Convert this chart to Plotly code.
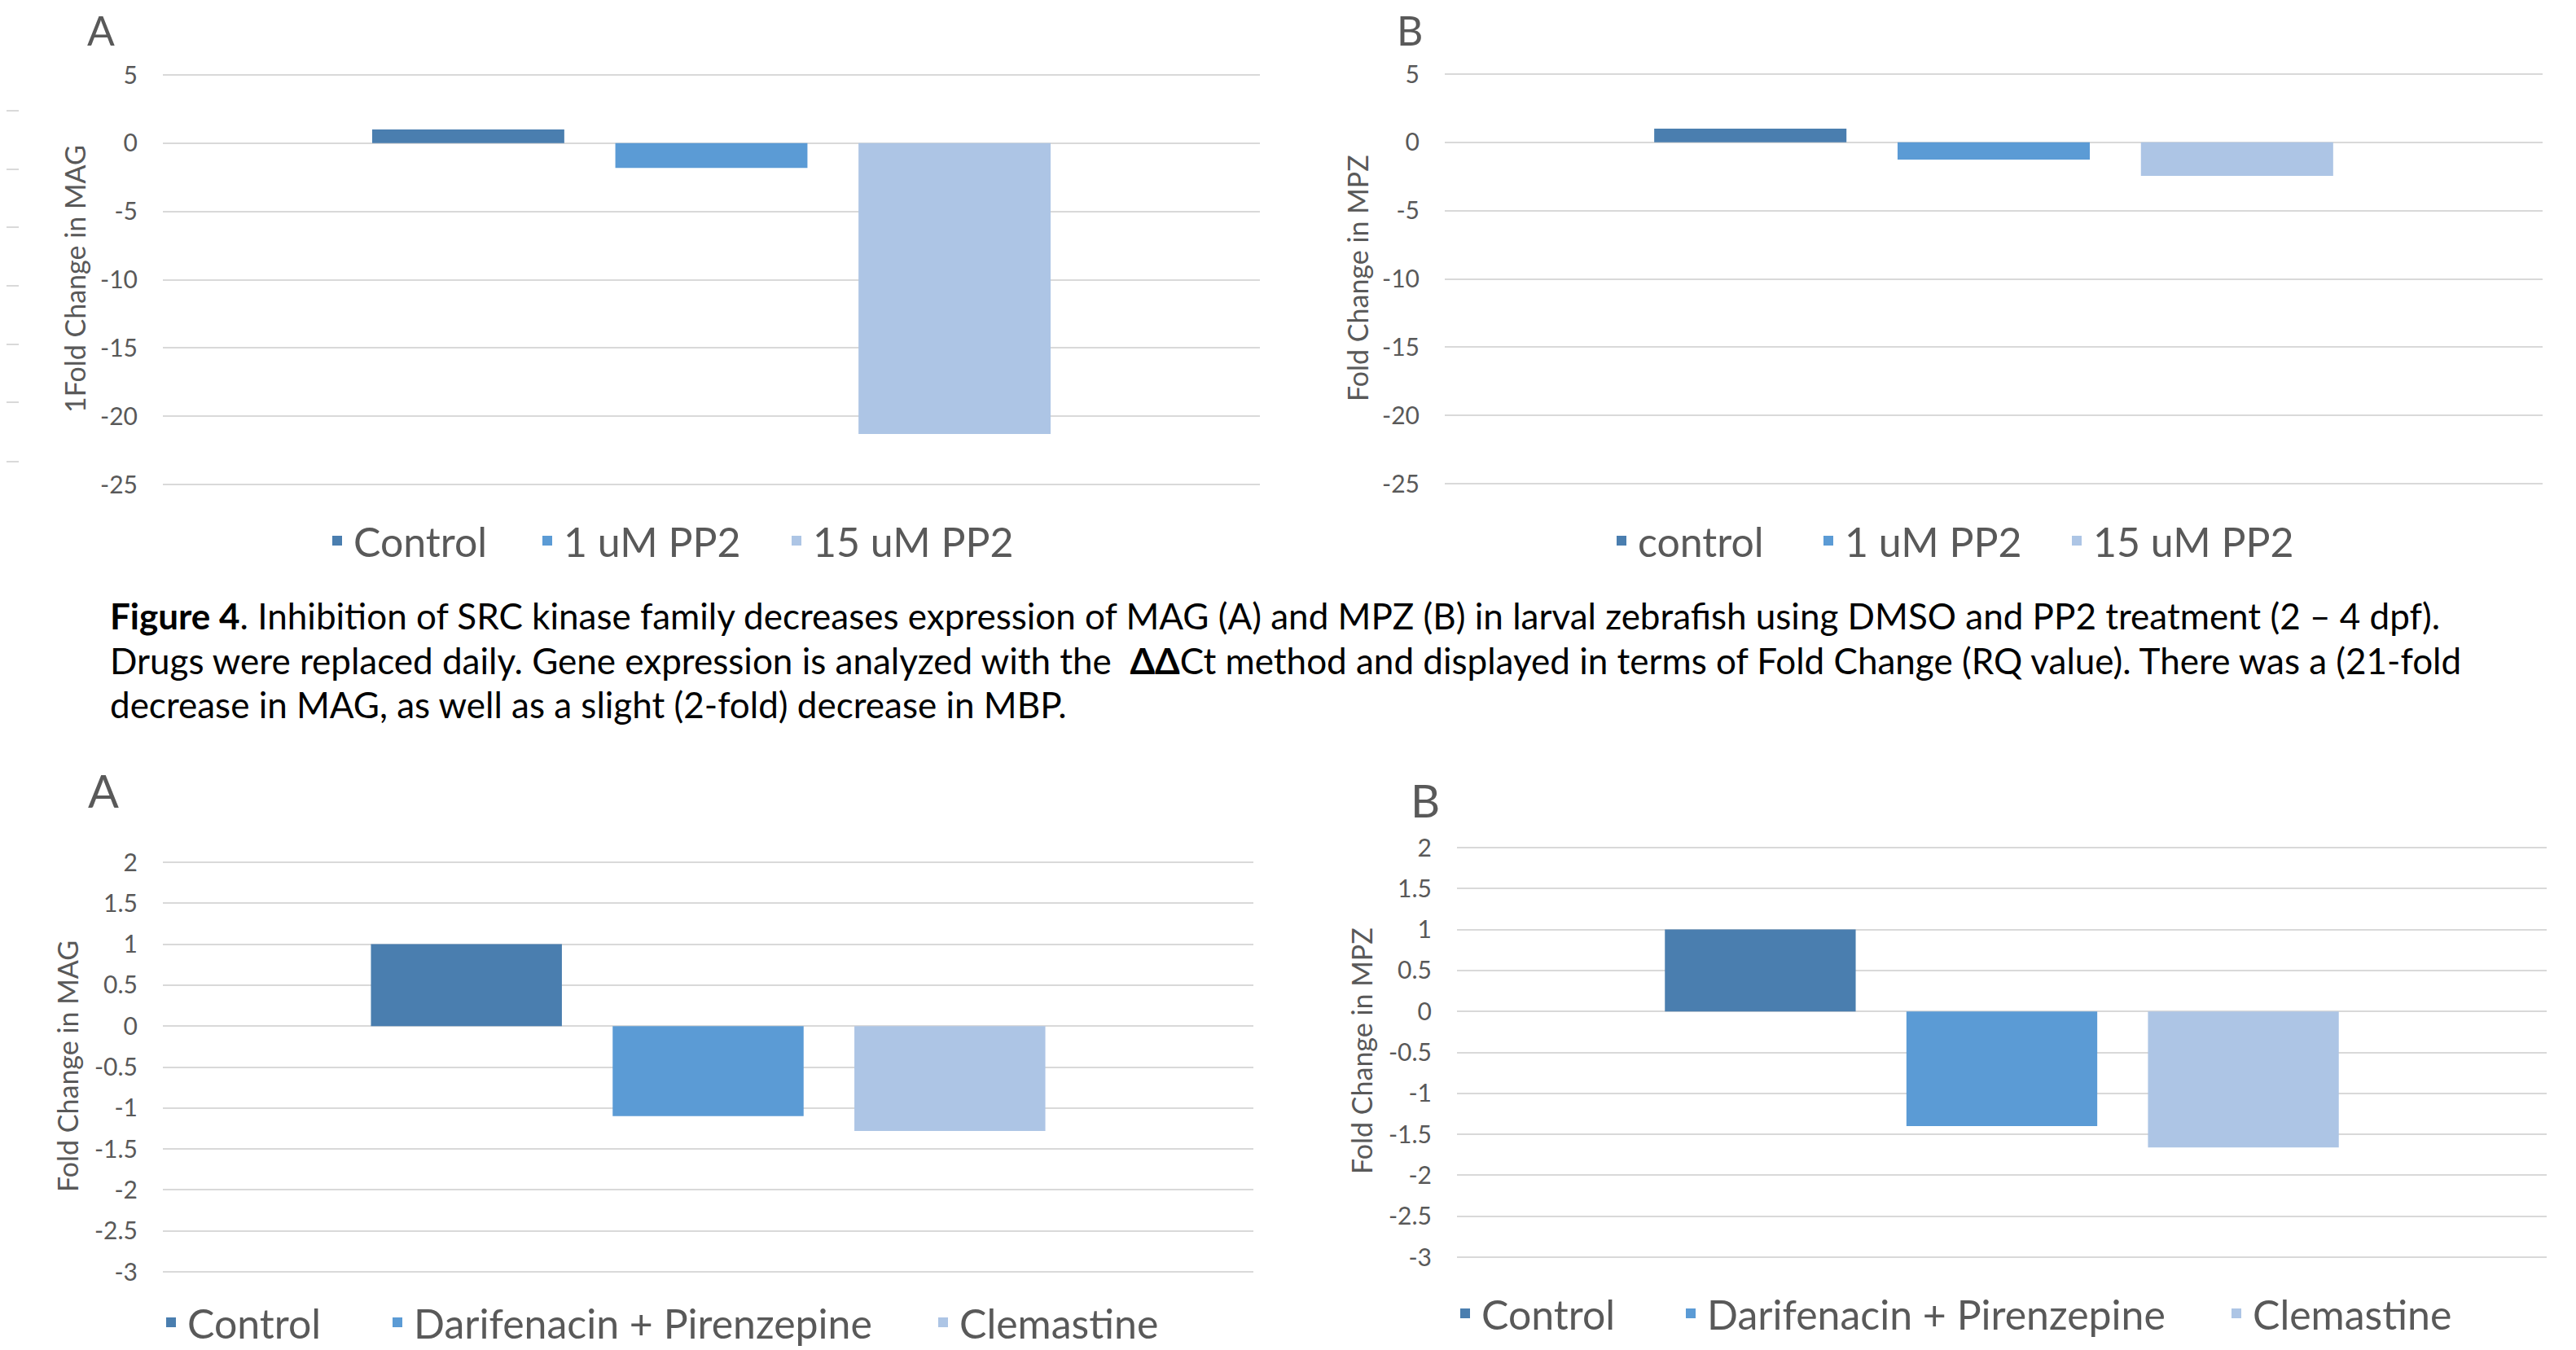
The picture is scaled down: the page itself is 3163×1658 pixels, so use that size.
import plotly.graph_objects as go

W, H = 3163, 1658
OFF = 8  # the page body adds an 8px margin; positions below are page pixels

# ---------------- data ----------------
series_pp2_mag = ["Control", "1 uM PP2", "15 uM PP2"]
series_pp2_mpz = ["control", "1 uM PP2", "15 uM PP2"]
series_musc = ["Control", "Darifenacin + Pirenzepine", "Clemastine"]

values_pp2_mag = [1.0, -1.82, -21.3]
values_pp2_mpz = [1.0, -1.26, -2.46]
values_musc_mag = [1.0, -1.10, -1.28]
values_musc_mpz = [1.0, -1.40, -1.66]

tickvals_pp2 = [5, 0, -5, -10, -15, -20, -25]
ticktext_pp2 = ["5", "0", "-5", "-10", "-15", "-20", "-25"]
tickvals_musc = [2, 1.5, 1, 0.5, 0, -0.5, -1, -1.5, -2, -2.5, -3]
ticktext_musc = ["2", "1.5", "1", "0.5", "0", "-0.5", "-1", "-1.5", "-2", "-2.5", "-3"]

ytitle_a1 = "1Fold Change in MAG"
ytitle_b1 = "Fold Change in MPZ"
ytitle_a2 = "Fold Change in MAG"
ytitle_b2 = "Fold Change in MPZ"

caption_lines = [
    "<b>Figure 4</b>. Inhibition of SRC kinase family decreases expression of MAG (A) and MPZ (B) in larval zebrafish using DMSO and PP2 treatment (2 \u2013 4 dpf).",
    "Drugs were replaced daily. Gene expression is analyzed with the  <b>\u0394\u0394</b>Ct method and displayed in terms of Fold Change (RQ value). There was a (21-fold",
    "decrease in MAG, as well as a slight (2-fold) decrease in MBP.",
]

colors = ["#4A7EAF", "#5B9BD5", "#ADC5E5"]
GRID = "#D9D9D9"
TXT = "#595959"
FONT = "Lato"


def fx(px):
    return (px - OFF) / W


def fy(py):
    return 1 - (py - OFF) / H


# ---------------- layout geometry (page pixels) ----------------
panels = [
    dict(x=(200, 1547), top=(92, 5), bot=(595, -25)),
    dict(x=(1774, 3122), top=(91, 5), bot=(594, -25)),
    dict(x=(200, 1539), top=(1059, 2), bot=(1562, -3)),
    dict(x=(1789, 3127), top=(1041, 2), bot=(1544, -3)),
]
legend_text_x = [[434, 692, 998], [2011, 2265, 2570], [230, 508, 1178], [1819, 2096, 2766]]
legend_y = [664, 664, 1624, 1613]

fig = go.Figure()

datasets = [
    (series_pp2_mag, values_pp2_mag, "MAG"),
    (series_pp2_mpz, values_pp2_mpz, "MPZ"),
    (series_musc, values_musc_mag, "MAG"),
    (series_musc, values_musc_mpz, "MPZ"),
]

layout = dict(
    width=W, height=H,
    margin=dict(l=0, r=0, t=0, b=0, autoexpand=False),
    paper_bgcolor="white", plot_bgcolor="white",
    barmode="group", bargap=0.335, bargroupgap=0.21,
    font=dict(family=FONT, color=TXT),
    showlegend=True,
)

lg_index = 0
for i, (names, vals, cat) in enumerate(datasets):
    xa = "x" if i == 0 else f"x{i+1}"
    ya = "y" if i == 0 else f"y{i+1}"
    for j, (n, v) in enumerate(zip(names, vals)):
        lg_index += 1
        lg = "legend" if lg_index == 1 else f"legend{lg_index}"
        fig.add_trace(go.Bar(
            x=[cat], y=[v], name=n, xaxis=xa, yaxis=ya,
            marker=dict(color=colors[j], line=dict(width=0)),
            legend=lg, showlegend=True,
        ))
        layout[lg] = dict(
            orientation="h", x=fx(legend_text_x[i][j] - 40), xanchor="left",
            y=fy(legend_y[i]), yanchor="middle",
            font=dict(family=FONT, size=50, color=TXT), bgcolor="rgba(0,0,0,0)",
            itemwidth=30,
        )

tick_sets = [(tickvals_pp2, ticktext_pp2), (tickvals_pp2, ticktext_pp2),
             (tickvals_musc, ticktext_musc), (tickvals_musc, ticktext_musc)]

for i, p in enumerate(panels):
    (pyt, vt), (pyb, vb) = p["top"], p["bot"]
    k = (pyb - pyt) / (vt - vb)
    e = 3 / k  # small extension so edge gridlines are drawn
    xs = "xaxis" if i == 0 else f"xaxis{i+1}"
    ys = "yaxis" if i == 0 else f"yaxis{i+1}"
    ya = "y" if i == 0 else f"y{i+1}"
    xa = "x" if i == 0 else f"x{i+1}"
    layout[xs] = dict(domain=[fx(p["x"][0]), fx(p["x"][1])], anchor=ya,
                      showticklabels=False, showgrid=False, zeroline=False,
                      showline=False, ticks="")
    tv, tt = tick_sets[i]
    layout[ys] = dict(domain=[fy(pyb + 3), fy(pyt - 3)], anchor=xa,
                      range=[vb - e, vt + e], tickvals=tv, ticktext=tt,
                      showgrid=True, gridcolor=GRID, gridwidth=2,
                      zeroline=True, zerolinecolor=GRID, zerolinewidth=2,
                      showline=False, ticks="", ticklabelstandoff=30,
                      tickfont=dict(family=FONT, size=30, color=TXT))

fig.update_layout(**layout)

annotations = []
ytitles = [(ytitle_a1, 91, 343), (ytitle_b1, 1666, 342), (ytitle_a2, 82, 1310), (ytitle_b2, 1671, 1291)]
for t, px, py in ytitles:
    annotations.append(dict(text=t, x=fx(px), y=fy(py), xref="paper", yref="paper",
                            xanchor="center", yanchor="middle", textangle=-90, showarrow=False,
                            font=dict(family=FONT, size=34, color=TXT)))
letters = [("A", 124, 37, 50), ("B", 1731, 37, 50), ("A", 127, 970, 56), ("B", 1750, 982, 56)]
for t, px, py, fs in letters:
    annotations.append(dict(text=t, x=fx(px), y=fy(py), xref="paper", yref="paper",
                            xanchor="center", yanchor="middle", showarrow=False,
                            font=dict(family=FONT, size=fs, color=TXT)))
cap_y = [756, 811, 865]
for t, py in zip(caption_lines, cap_y):
    annotations.append(dict(text=t, x=fx(133), y=fy(py), xref="paper", yref="paper",
                            xanchor="left", yanchor="middle", showarrow=False, align="left",
                            font=dict(family=FONT, size=44, color="#000000")))
fig.update_layout(annotations=annotations)

# residual gridline stubs of a cropped neighbouring chart at the left edge
stub_y = [136, 208, 279, 351, 423, 494, 567]
fig.update_layout(shapes=[dict(type="line", xref="paper", yref="paper", x0=0, x1=fx(23),
                               y0=fy(y), y1=fy(y), line=dict(color=GRID, width=2))
                          for y in stub_y])

fig.write_html("out.html")
